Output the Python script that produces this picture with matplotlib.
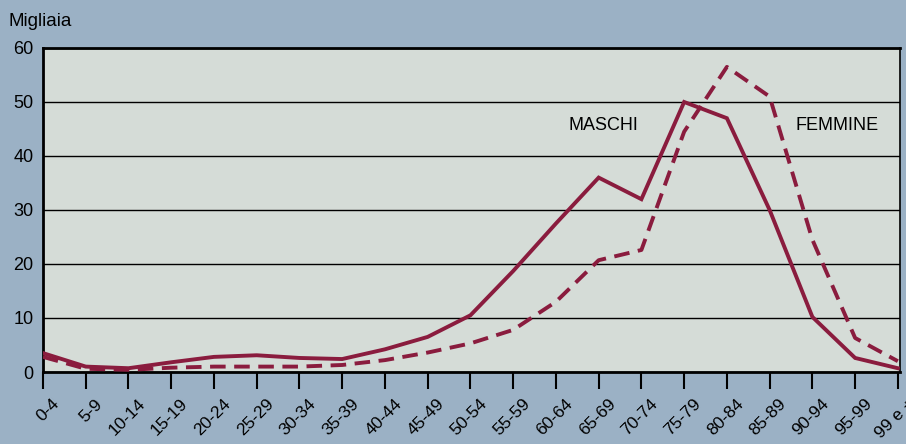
import matplotlib.pyplot as plt
import matplotlib.transforms as mtrans

plt.rcParams['font.family'] = ['Liberation Sans', 'DejaVu Sans']

eta = ["0-4", "5-9", "10-14", "15-19", "20-24", "25-29", "30-34", "35-39",
       "40-44", "45-49", "50-54", "55-59", "60-64", "65-69", "70-74", "75-79",
       "80-84", "85-89", "90-94", "95-99", "99 e +"]
maschi = [3.5, 1.0, 0.7, 1.8, 2.8, 3.1, 2.6, 2.4, 4.2, 6.5, 10.5, 18.7, 27.5,
          36.0, 32.0, 50.0, 47.0, 30.0, 10.2, 2.6, 0.7]
femmine = [2.8, 0.6, 0.4, 0.8, 1.0, 1.0, 1.0, 1.3, 2.2, 3.6, 5.3, 7.8, 13.0,
           20.7, 22.6, 44.5, 56.5, 51.0, 24.5, 6.3, 2.0]

col = '#8a1c3e'
fig = plt.figure(figsize=(9.06, 4.44), dpi=100, facecolor='#9bb1c5')
ax = fig.add_axes([43 / 906, 1 - 372 / 444, 857 / 906, 324 / 444])
ax.set_facecolor('#d5dcd7')

x = list(range(len(eta)))
ax.plot(x, maschi, color=col, lw=2.8, solid_joinstyle='miter', zorder=3)
ax.plot(x, femmine, color=col, lw=2.8, dashes=(4, 2.2), zorder=3)

ax.set_xlim(0, 20.05)
ax.set_ylim(0, 60)
ax.set_yticks(range(0, 61, 10))
ax.yaxis.grid(True, color='black', lw=1)
ax.set_axisbelow(True)
ax.tick_params(axis='y', length=0, labelsize=13, pad=7)
ax.set_xticks(x)
ax.set_xticklabels(eta, rotation=45, ha='right', rotation_mode='anchor', fontsize=12.5)
ax.tick_params(axis='x', length=12, width=1.5, direction='out', pad=4)
shift = mtrans.ScaledTranslation(0.09, -0.02, fig.dpi_scale_trans)
for lab in ax.get_xticklabels():
    lab.set_transform(lab.get_transform() + shift)
for s in ['left', 'bottom', 'top']:
    ax.spines[s].set_linewidth(2)
ax.spines['right'].set_linewidth(1.2)

ax.text(9 / 906, 1 - 22 / 444, "Migliaia", transform=fig.transFigure,
        fontsize=13.5, va='center', ha='left')
ax.text(13.12, 45.7, "MASCHI", fontsize=13, ha='center', va='center')
ax.text(18.58, 45.7, "FEMMINE", fontsize=13, ha='center', va='center')

fig.savefig('out.png', dpi=100, facecolor=fig.get_facecolor())
